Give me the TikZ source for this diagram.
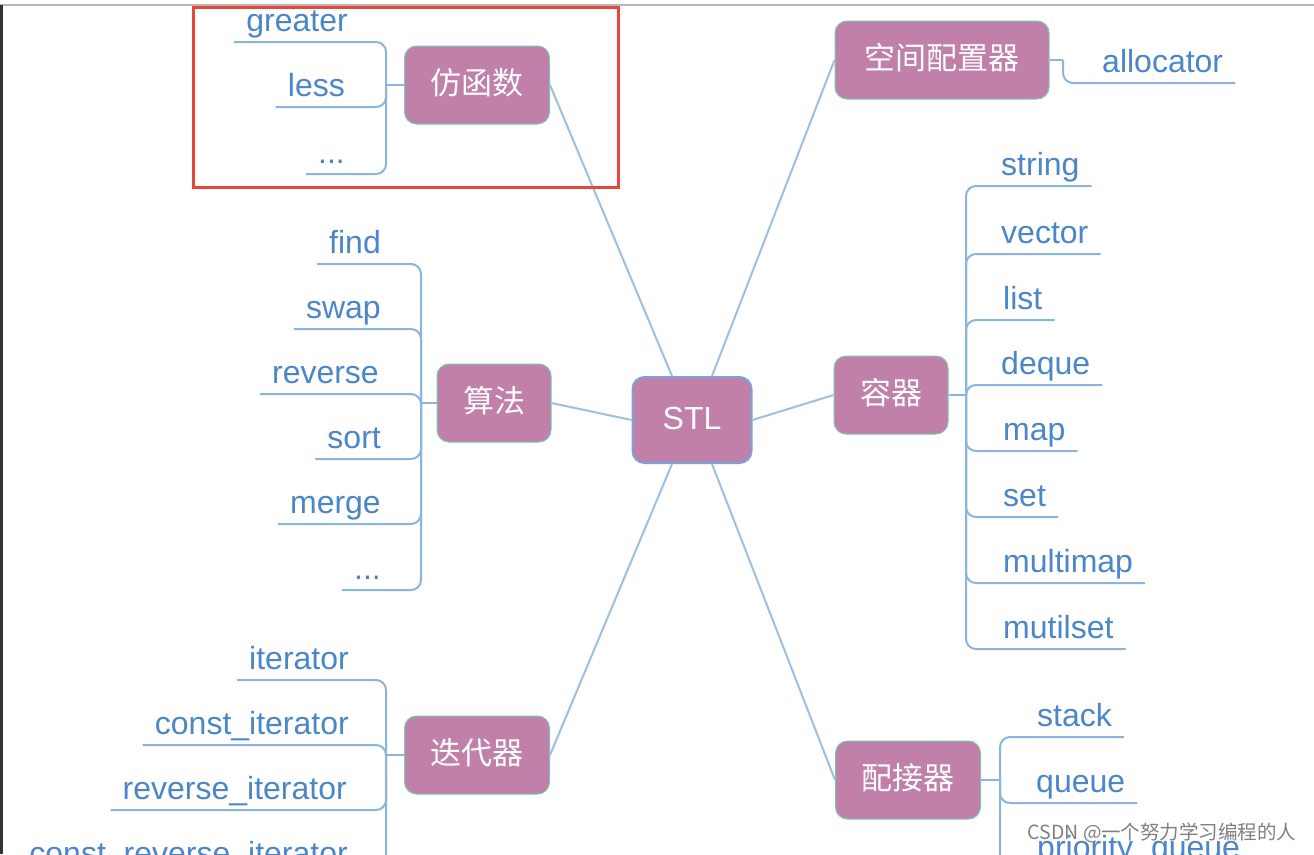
\documentclass[tikz,border=0pt]{standalone}
\usepackage{fontspec}
\newfontfamily\latinfont{Liberation Sans}
\newfontfamily\cjkfont{Noto Sans CJK SC}
\definecolor{boxfill}{HTML}{C080AA}
\definecolor{boxline}{HTML}{7CC7B6}
\definecolor{rootline}{HTML}{7BA3D8}
\definecolor{leafblue}{HTML}{4A86C8}
\definecolor{branchblue}{HTML}{8BB5DD}
\definecolor{markred}{HTML}{E8453C}
\tikzset{
  topic/.style={rectangle, rounded corners=12pt, fill=boxfill, draw=boxline,
    line width=1pt, text=white, font=\cjkfont\fontsize{31}{31}\selectfont,
    inner xsep=26pt, inner ysep=0pt, minimum height=78pt, text height=24pt, text depth=5pt},
  root/.style={topic, draw=rootline, line width=2pt, font=\latinfont\fontsize{32}{32}\selectfont,
    minimum width=119pt, minimum height=86pt},
  leaf/.style={text=leafblue, font=\latinfont\fontsize{32}{32}\selectfont,
    inner xsep=12pt, inner ysep=0pt, text height=24pt, text depth=10pt},
  branch/.style={draw=branchblue, line width=2pt, rounded corners=10pt},
  spoke/.style={draw=branchblue!85, line width=2pt},
}

\begin{document}
\begin{tikzpicture}[x=1pt, y=-1pt]
\useasboundingbox (0,0) rectangle (1314,854);
\clip (0,0) rectangle (1314,854);
\fill[white] (0,0) rectangle (1314,854);
% window edges
\draw[gray!55, line width=1.5pt] (0,5) -- (1314,5);
\fill[black!80] (0,5) rectangle (3,854);

\node[root] (stl) at (692,420) {STL};
\node[topic] (functor) at (477,85) {仿函数};
\node[topic] (algo) at (494,403) {算法};
\node[topic] (iter) at (477,755) {迭代器};
\node[topic, minimum width=214pt] (space) at (942,60) {空间配置器};
\node[topic] (cont) at (891,395) {容器};
\node[topic] (adapt) at (908,780) {配接器};

\coordinate (funchub) at (386,85);
\coordinate (algohub) at (421,403);
\coordinate (iterhub) at (386,755);
\coordinate (conthub) at (966,395);
\coordinate (adapthub) at (1000,780);
\coordinate (allochub) at (1063,60);

% functors
\node[leaf, anchor=south east] (greater) at (360,42) {greater};
\node[leaf, anchor=south east] (less) at (357,107) {less};
\node[leaf, anchor=south east] (fdots) at (357,174) {...};
% algorithms
\node[leaf, anchor=south east] (find) at (393,264) {find};
\node[leaf, anchor=south east] (swap) at (393,329) {swap};
\node[leaf, anchor=south east] (reverse) at (391,394) {reverse};
\node[leaf, anchor=south east] (sort) at (393,459) {sort};
\node[leaf, anchor=south east] (merge) at (393,524) {merge};
\node[leaf, anchor=south east] (adots) at (393,590) {...};
% iterators
\node[leaf, anchor=south east] (it) at (361,680) {iterator};
\node[leaf, anchor=south east] (cit) at (361,745) {const\_iterator};
\node[leaf, anchor=south east] (rit) at (359,810) {reverse\_iterator};
\node[leaf, anchor=south east] (crit) at (360,875) {const\_reverse\_iterator};
% containers
\node[leaf, anchor=south west] (string) at (989,186) {string};
\node[leaf, anchor=south west] (vector) at (989,254) {vector};
\node[leaf, anchor=south west] (list) at (991,320) {list};
\node[leaf, anchor=south west] (deque) at (989,385) {deque};
\node[leaf, anchor=south west] (map) at (991,451) {map};
\node[leaf, anchor=south west] (set) at (991,517) {set};
\node[leaf, anchor=south west] (multimap) at (991,583) {multimap};
\node[leaf, anchor=south west] (mutilset) at (991,649) {mutilset};
% allocator
\node[leaf, anchor=south west] (alloc) at (1090,83) {allocator};
% adapters
\node[leaf, anchor=south west] (stack) at (1025,737) {stack};
\node[leaf, anchor=south west] (queue) at (1024,803) {queue};
\node[leaf, anchor=south west] (pqueue) at (1025,869) {priority\_queue};

% spokes from the root
\draw[spoke] ([xshift=-20pt]stl.north) -- (functor.east);
\draw[spoke] ([xshift=20pt]stl.north) -- (space.west);
\draw[spoke] (stl.west) -- (algo.east);
\draw[spoke] (stl.east) -- (cont.west);
\draw[spoke] ([xshift=-20pt]stl.south) -- (iter.east);
\draw[spoke] ([xshift=20pt]stl.south) -- (adapt.west);

% branches
\draw[branch] (functor.west) -- (funchub);
\draw[branch] (greater.south west) -| (funchub);
\draw[branch] (less.south west) -| (funchub);
\draw[branch] (fdots.south west) -| (funchub);

\draw[branch] (algo.west) -- (algohub);
\draw[branch] (find.south west) -| (algohub);
\draw[branch] (swap.south west) -| (algohub);
\draw[branch] (reverse.south west) -| (algohub);
\draw[branch] (sort.south west) -| (algohub);
\draw[branch] (merge.south west) -| (algohub);
\draw[branch] (adots.south west) -| (algohub);

\draw[branch] (iter.west) -- (iterhub);
\draw[branch] (it.south west) -| (iterhub);
\draw[branch] (cit.south west) -| (iterhub);
\draw[branch] (rit.south west) -| (iterhub);
\draw[branch] (crit.south west) -| (iterhub);

\draw[branch] (cont.east) -- (conthub);
\draw[branch] (string.south east) -| (conthub);
\draw[branch] (vector.south east) -| (conthub);
\draw[branch] (list.south east) -| (conthub);
\draw[branch] (deque.south east) -| (conthub);
\draw[branch] (map.south east) -| (conthub);
\draw[branch] (set.south east) -| (conthub);
\draw[branch] (multimap.south east) -| (conthub);
\draw[branch] (mutilset.south east) -| (conthub);

\draw[branch] (space.east) -- (allochub);
\draw[branch] (alloc.south east) -| (allochub);

\draw[branch] (adapt.east) -- (adapthub);
\draw[branch] (stack.south east) -| (adapthub);
\draw[branch] (queue.south east) -| (adapthub);
\draw[branch] (pqueue.south east) -| (adapthub);

% highlight
\draw[markred, line width=3pt] (193,7) rectangle (618,187);

\node[text=black!50, font=\cjkfont\fontsize{19.5}{19.5}\selectfont, anchor=east] (mark) at (1300,833) {CSDN @一个努力学习编程的人};
\end{tikzpicture}
\end{document}
